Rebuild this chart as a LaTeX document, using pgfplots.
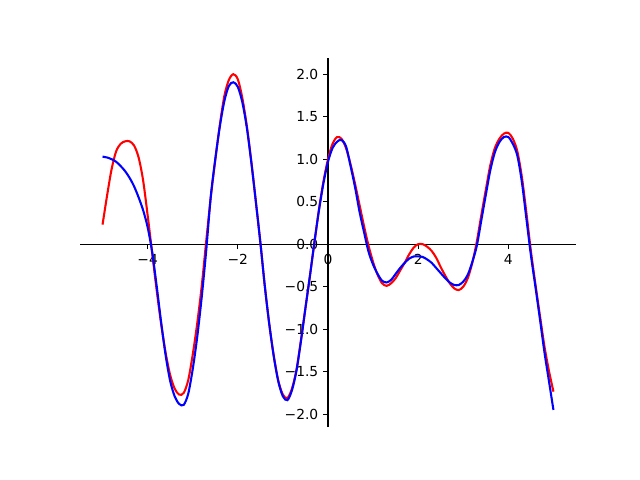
\documentclass[border=0pt]{standalone}
\usepackage{fontspec}
\setmainfont{DejaVu Sans}
\usepackage{pgfplots}
\pgfplotsset{compat=1.18}

% values, every 0.1 in x
\pgfplotstableread{
x      red     blue
-5.0   0.23    1.03
-4.9   0.57    1.02
-4.8   0.88    1.00
-4.7   1.09    0.97
-4.6   1.18    0.92
-4.5   1.21    0.86
-4.4   1.21    0.78
-4.3   1.16    0.68
-4.2   1.02    0.55
-4.1   0.75    0.40
-4.0   0.34    0.20
-3.9  -0.10   -0.09
-3.8  -0.54   -0.49
-3.7  -0.94   -0.92
-3.6  -1.28   -1.31
-3.5  -1.54   -1.61
-3.4  -1.70   -1.79
-3.3  -1.77   -1.88
-3.2  -1.75   -1.89
-3.1  -1.60   -1.76
-3.0  -1.30   -1.47
-2.9  -0.93   -1.09
-2.8  -0.49   -0.62
-2.7   0.04   -0.07
-2.6   0.55    0.56
-2.5   0.99    1.00
-2.4   1.40    1.38
-2.3   1.74    1.68
-2.2   1.93    1.86
-2.1   2.00    1.905
-2.0   1.94    1.85
-1.9   1.72    1.67
-1.8   1.39    1.37
-1.7   0.97    0.96
-1.6   0.50    0.50
-1.5   0.02    0.02
-1.4  -0.50   -0.50
-1.3  -0.95   -0.95
-1.2  -1.32   -1.33
-1.1  -1.61   -1.62
-1.0  -1.77   -1.79
-0.9  -1.81   -1.835
-0.8  -1.70   -1.72
-0.7  -1.48   -1.49
-0.6  -1.13   -1.14
-0.5  -0.75   -0.75
-0.4  -0.37   -0.37
-0.3   0.02    0.03
-0.2   0.41    0.40
-0.1   0.74    0.72
 0.0   1.00    0.97
 0.1   1.18    1.13
 0.2   1.26    1.205
 0.3   1.24    1.226
 0.4   1.13    1.15
 0.5   0.94    0.92
 0.6   0.71    0.67
 0.7   0.46    0.38
 0.8   0.21    0.14
 0.9  -0.02   -0.09
 1.0  -0.21   -0.24
 1.1  -0.36   -0.35
 1.2  -0.46   -0.43
 1.3  -0.49   -0.45
 1.4  -0.46   -0.42
 1.5  -0.40   -0.35
 1.6  -0.31   -0.28
 1.7  -0.22   -0.22
 1.8  -0.12   -0.17
 1.9  -0.04   -0.145
 2.0   0.00   -0.143
 2.1   0.00   -0.15
 2.2  -0.03   -0.18
 2.3  -0.08   -0.22
 2.4  -0.16   -0.28
 2.5  -0.27   -0.34
 2.6  -0.37   -0.40
 2.7  -0.46   -0.45
 2.8  -0.52   -0.48
 2.9  -0.54   -0.48
 3.0  -0.50   -0.44
 3.1  -0.40   -0.36
 3.2  -0.22   -0.21
 3.3   0.03   -0.02
 3.4   0.34    0.28
 3.5   0.64    0.58
 3.6   0.93    0.87
 3.7   1.13    1.08
 3.8   1.24    1.20
 3.9   1.30    1.26
 4.0   1.31    1.26
 4.1   1.24    1.18
 4.2   1.09    1.04
 4.3   0.79    0.73
 4.4   0.37    0.30
 4.5  -0.08   -0.13
 4.6  -0.47   -0.50
 4.7  -0.84   -0.88
 4.8  -1.20   -1.27
 4.9  -1.49   -1.61
 5.0  -1.735  -1.95
}\curves

\begin{document}
\begin{tikzpicture}
\useasboundingbox (-0.8in,-0.528in) rectangle (5.6in,4.272in);
\begin{axis}[
    at={(0,0)}, anchor=south west,
    scale only axis, width=4.96in, height=3.696in,
    xmin=-5.5, xmax=5.5, ymin=-2.153, ymax=2.195,
    axis lines=middle,
    axis line style={-, line width=0.8pt},
    every inner x axis line/.append style={-},
    every inner y axis line/.append style={-},
    hide obscured x ticks=false, hide obscured y ticks=false,
    xtick={-4,-2,0,2,4}, xticklabels={−4,−2,0,2,4},
    ytick={-2,-1.5,-1,-0.5,0,0.5,1,1.5,2},
    yticklabels={−2.0,−1.5,−1.0,−0.5,0.0,0.5,1.0,1.5,2.0},
    tick align=outside, major tick length=3.5pt,
    tick style={line width=0.8pt, black},
    tick label style={font=\fontsize{10}{12}\selectfont},
    clip=false,
]
\addplot[red, line width=1.5pt, smooth] table[x=x, y=red] {\curves};
\addplot[blue, line width=1.5pt, smooth] table[x=x, y=blue] {\curves};
\end{axis}
\end{tikzpicture}
\end{document}
